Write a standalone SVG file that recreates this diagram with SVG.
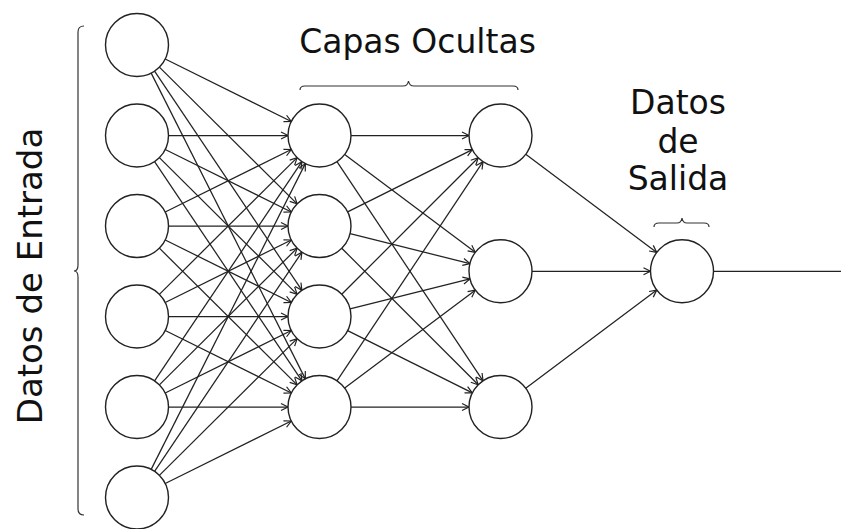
<svg xmlns="http://www.w3.org/2000/svg" width="841" height="529" viewBox="0 0 841 529">
<style>
.node circle{fill:#fff;stroke:#222;stroke-width:1.4}
.edges line{stroke:#222;stroke-width:1.25;marker-end:url(#arr)}
.edges line.out{marker-end:none}
.brace{fill:none;stroke:#333;stroke-width:1.2}
text{font-family:"DejaVu Sans","Liberation Sans",sans-serif;font-size:33px;fill:#111;text-anchor:middle}
text.vert{font-size:34px}
</style>
<defs>
<marker id="arr" markerUnits="userSpaceOnUse" markerWidth="12" markerHeight="12" viewBox="-10 -6 12 12" refX="0" refY="0" orient="auto" overflow="visible">
<path d="M-7,-3.5 L0,0 L-7,3.5" fill="none" stroke="#222" stroke-width="1.2"/>
</marker>
</defs>
<rect width="841" height="529" fill="#fff"/>
<g class="edges" id="connectors">
<line x1="165.22" y1="59" x2="291.28" y2="121.5"/>
<line x1="159.37" y1="67.18" x2="297.13" y2="203.82"/>
<line x1="154.57" y1="71.14" x2="301.93" y2="290.36"/>
<line x1="151.18" y1="73.13" x2="305.32" y2="378.87"/>
<line x1="168.5" y1="135.5" x2="288" y2="135.5"/>
<line x1="165.22" y1="149.5" x2="291.28" y2="212"/>
<line x1="159.37" y1="157.68" x2="297.13" y2="294.32"/>
<line x1="154.57" y1="161.64" x2="301.93" y2="380.86"/>
<line x1="165.22" y1="212" x2="291.28" y2="149.5"/>
<line x1="168.5" y1="226" x2="288" y2="226"/>
<line x1="165.22" y1="240" x2="291.28" y2="302.5"/>
<line x1="159.37" y1="248.18" x2="297.13" y2="384.82"/>
<line x1="159.37" y1="294.32" x2="297.13" y2="157.68"/>
<line x1="165.22" y1="302.5" x2="291.28" y2="240"/>
<line x1="168.5" y1="316.5" x2="288" y2="316.5"/>
<line x1="165.22" y1="330.5" x2="291.28" y2="393"/>
<line x1="154.57" y1="380.86" x2="301.93" y2="161.64"/>
<line x1="159.37" y1="384.82" x2="297.13" y2="248.18"/>
<line x1="165.22" y1="393" x2="291.28" y2="330.5"/>
<line x1="168.5" y1="407" x2="288" y2="407"/>
<line x1="151.18" y1="469.37" x2="305.32" y2="163.63"/>
<line x1="154.57" y1="471.36" x2="301.93" y2="252.14"/>
<line x1="159.37" y1="475.32" x2="297.13" y2="338.68"/>
<line x1="165.22" y1="483.5" x2="291.28" y2="421"/>
<line x1="351" y1="135.5" x2="469" y2="135.5"/>
<line x1="347.67" y1="211.91" x2="472.33" y2="149.59"/>
<line x1="341.77" y1="294.23" x2="478.23" y2="157.77"/>
<line x1="336.97" y1="380.79" x2="483.03" y2="161.71"/>
<line x1="344.7" y1="154.4" x2="475.3" y2="252.35"/>
<line x1="350.06" y1="233.64" x2="469.94" y2="263.61"/>
<line x1="350.06" y1="308.86" x2="469.94" y2="278.89"/>
<line x1="344.7" y1="388.1" x2="475.3" y2="290.15"/>
<line x1="336.97" y1="161.71" x2="483.03" y2="380.79"/>
<line x1="341.77" y1="248.27" x2="478.23" y2="384.73"/>
<line x1="347.67" y1="330.59" x2="472.33" y2="392.91"/>
<line x1="351" y1="407" x2="469" y2="407"/>
<line x1="525.73" y1="154.37" x2="656.77" y2="252.38"/>
<line x1="532" y1="271.25" x2="650.5" y2="271.25"/>
<line x1="525.73" y1="388.13" x2="656.77" y2="290.12"/>
<line class="out" x1="713.5" y1="271.25" x2="841" y2="271.25"/>
</g>
<g id="in1" class="node"><circle cx="137" cy="45" r="31.5"/></g>
<g id="in2" class="node"><circle cx="137" cy="135.5" r="31.5"/></g>
<g id="in3" class="node"><circle cx="137" cy="226" r="31.5"/></g>
<g id="in4" class="node"><circle cx="137" cy="316.5" r="31.5"/></g>
<g id="in5" class="node"><circle cx="137" cy="407" r="31.5"/></g>
<g id="in6" class="node"><circle cx="137" cy="497.5" r="31.5"/></g>
<g id="h1a" class="node"><circle cx="319.5" cy="135.5" r="31.5"/></g>
<g id="h1b" class="node"><circle cx="319.5" cy="226" r="31.5"/></g>
<g id="h1c" class="node"><circle cx="319.5" cy="316.5" r="31.5"/></g>
<g id="h1d" class="node"><circle cx="319.5" cy="407" r="31.5"/></g>
<g id="h2a" class="node"><circle cx="500.5" cy="135.5" r="31.5"/></g>
<g id="h2b" class="node"><circle cx="500.5" cy="271.25" r="31.5"/></g>
<g id="h2c" class="node"><circle cx="500.5" cy="407" r="31.5"/></g>
<g id="out" class="node"><circle cx="682" cy="271.25" r="31.5"/></g>
<g id="labels">
<path class="brace" d="M84,26 C80,26 78,28 78,32 L78,265 C78,268 77,271 74,271 C77,271 78,274 78,277 L78,509 C78,513 80,515 84,515"/>
<path class="brace" d="M300,90 C300,87 302,86 305,86 L403,86 C406,86 408,84 408.5,81 C409,84 411,86 414,86 L513,86 C516,86 518,87 518,90"/>
<path class="brace" d="M654,227 C654,224 656,223 659,223 L677,223 C680,223 681.5,221 682,218 C682.5,221 684,223 687,223 L704,223 C707,223 709,224 709,227"/>
<text x="417.5" y="53">Capas Ocultas</text>
<text x="678" y="114">Datos</text>
<text x="678" y="152.7">de</text>
<text x="678" y="190">Salida</text>
<text class="vert" transform="translate(42,276) rotate(-90)">Datos de Entrada</text>
</g>
</svg>
